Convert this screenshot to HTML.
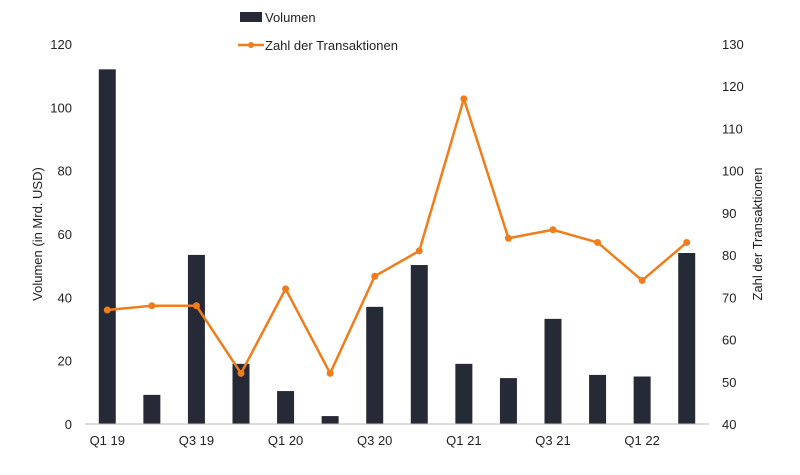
<!DOCTYPE html>
<html><head><meta charset="utf-8"><style>
body{margin:0;background:#fff;}
svg{display:block;font-family:"Liberation Sans",Arial,sans-serif;}
</style></head><body>
<svg id="chart" width="800" height="475">
<g id="legend">
<rect x="240" y="12" width="22" height="10" fill="#262a36"/>
<text x="265" y="22" font-size="13" fill="#222">Volumen</text>
<line x1="238" y1="45" x2="264" y2="45" stroke="#f07d1a" stroke-width="2.5"/>
<circle cx="251" cy="45" r="3" fill="#f07d1a"/>
<text x="265" y="50" font-size="13" fill="#222">Zahl der Transaktionen</text>
</g>
<text transform="translate(42,234) rotate(-90)" text-anchor="middle" font-size="13" fill="#222">Volumen (in Mrd. USD)</text>
<text transform="translate(762,234) rotate(-90)" text-anchor="middle" font-size="13" fill="#222">Zahl der Transaktionen</text>
</svg>
<script>
const categories=["Q1 19","Q2 19","Q3 19","Q4 19","Q1 20","Q2 20","Q3 20","Q4 20","Q1 21","Q2 21","Q3 21","Q4 21","Q1 22","Q2 22"];
const volumen=[112,9.2,53.4,19,10.4,2.5,37,50.2,19,14.5,33.2,15.5,15,54];
const transaktionen=[67,68,68,52,72,52,75,81,117,84,86,83,74,83];
const leftTicks=[0,20,40,60,80,100,120];
const rightTicks=[40,50,60,70,80,90,100,110,120,130];
const NS="http://www.w3.org/2000/svg";
const svg=document.getElementById('chart');
const X0=85,X1=709,Y0=424,Y1=44;
const band=(X1-X0)/categories.length;
function xC(i){return X0+band*(i+0.5);}
function yL(v){return Y0-(v-0)/(120-0)*(Y0-Y1);}
function yR(v){return Y0-(v-40)/(130-40)*(Y0-Y1);}
function mk(t,a){const e=document.createElementNS(NS,t);for(const k in a)e.setAttribute(k,a[k]);svg.appendChild(e);return e;}
leftTicks.forEach(v=>{const t=mk('text',{x:72,y:yL(v)+5,'text-anchor':'end','font-size':13,fill:'#222'});t.textContent=v;

});
rightTicks.forEach(v=>{const t=mk('text',{x:722,y:yR(v)+5,'font-size':13,fill:'#222'});t.textContent=v;

});
volumen.forEach((v,i)=>{const r=mk('rect',{x:xC(i)-8.5,y:yL(v),width:17,height:Y0-yL(v),fill:'#262a36'});

});
const ax=mk('line',{x1:X0,y1:Y0,x2:X1,y2:Y0,stroke:'#bbb','stroke-width':1});


categories.forEach((c,i)=>{if(i%2)return;const t=mk('text',{x:xC(i),y:445,'text-anchor':'middle','font-size':13,fill:'#222'});t.textContent=c;

});
const pl=mk('polyline',{points:transaktionen.map((v,i)=>xC(i)+','+yR(v)).join(' '),fill:'none',stroke:'#f07d1a','stroke-width':2.5,'stroke-linejoin':'round'});


transaktionen.forEach((v,i)=>{const c=mk('circle',{cx:xC(i),cy:yR(v),r:3.5,fill:'#f07d1a'});

});
</script>
</body></html>
